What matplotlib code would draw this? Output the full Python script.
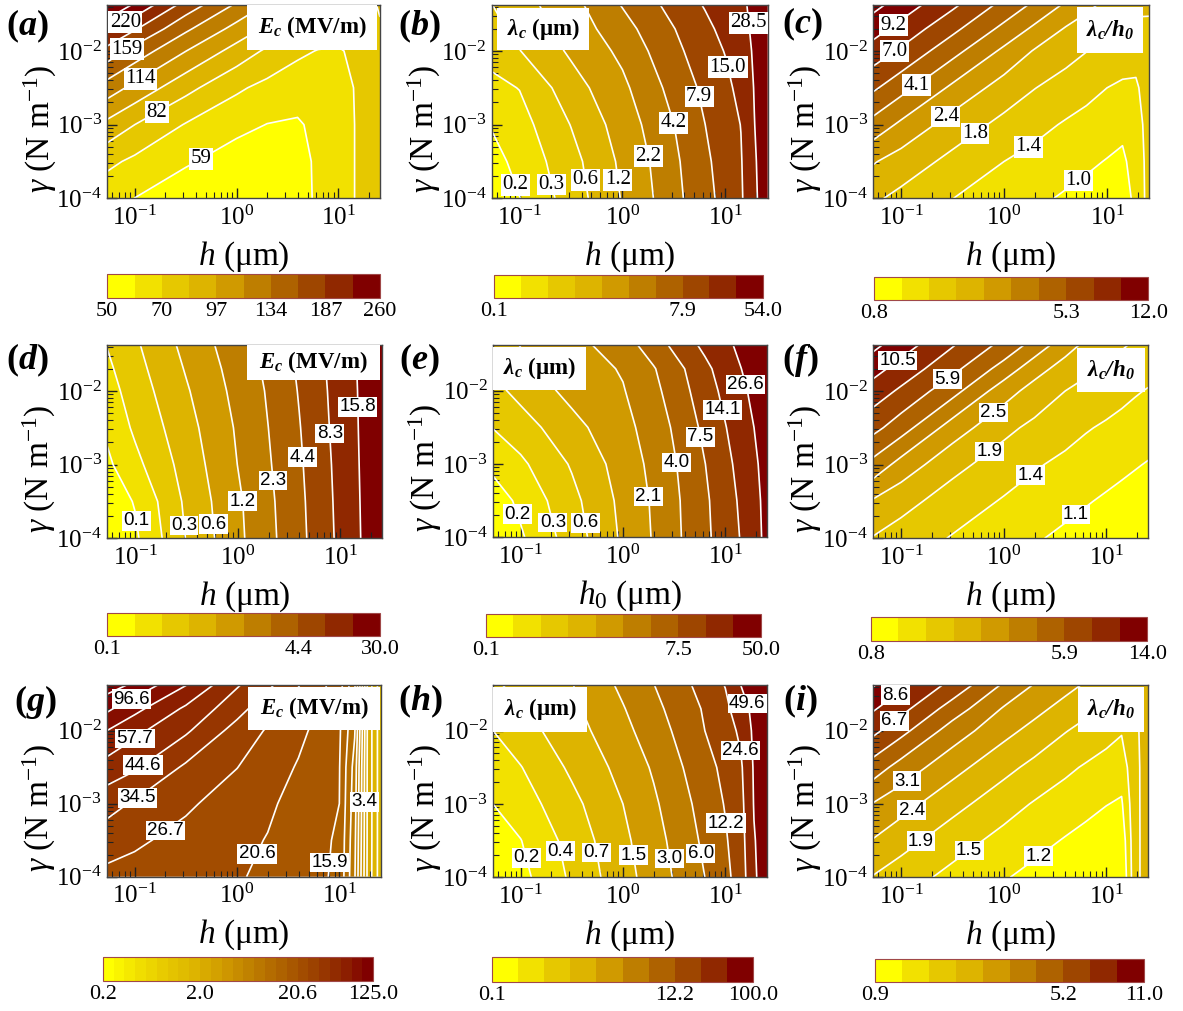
import numpy as np
import matplotlib
matplotlib.use('Agg')
import matplotlib.pyplot as plt
from matplotlib.colors import ListedColormap, BoundaryNorm, LinearSegmentedColormap
from matplotlib.patches import Rectangle
from matplotlib.cm import ScalarMappable
from matplotlib.ticker import LogLocator, NullFormatter, FixedLocator

plt.rcParams['font.family'] = ['Liberation Serif', 'DejaVu Serif']
plt.rcParams['mathtext.fontset'] = 'custom'
plt.rcParams['mathtext.rm'] = 'Liberation Serif'
plt.rcParams['mathtext.it'] = 'Liberation Serif:italic'
plt.rcParams['mathtext.bf'] = 'Liberation Serif:bold:italic'
plt.rcParams['contour.negative_linestyle'] = 'solid'

# ---------------- data ----------------
# grid nodes (log10 h in um, log10 gamma in N/m)
LOG_H_NODES = [-1.27, -1.0, -0.5, 0.0, 0.3, 0.6, 0.8, 1.0, 1.15, 1.28, 1.41]
LOG_G_NODES = [-4.0, -3.5, -3.0, -2.5, -2.0, -1.7, -1.376]

# field values at the nodes, expressed as position on each colour scale
# (0 = lowest colour-bar boundary, nb = highest), rows bottom -> top
K_A = [[1.34, 0.99, 0.33, 0.15, 0.19, 0.62, 1.15, 1.60, 1.97, 2.35, 2.70],
       [2.24, 1.79, 1.13, 0.52, 0.43, 0.67, 1.16, 1.60, 1.97, 2.35, 2.70],
       [3.74, 3.00, 1.94, 1.29, 0.98, 0.90, 1.22, 1.62, 1.97, 2.35, 2.70],
       [5.53, 4.72, 3.31, 2.16, 1.72, 1.41, 1.45, 1.69, 2.00, 2.36, 2.72],
       [7.63, 6.61, 5.02, 3.62, 2.83, 2.20, 1.96, 1.94, 2.10, 2.40, 2.75],
       [9.26, 8.10, 6.19, 4.66, 3.82, 2.99, 2.60, 2.27, 2.27, 2.47, 2.90],
       [11.0, 9.85, 7.61, 5.86, 4.92, 4.08, 3.54, 3.06, 2.78, 2.72, 3.10]]
K_B = [[0.19, 0.98, 2.46, 4.07, 5.00, 6.03, 6.67, 7.34, 7.87, 8.82, 9.60],
       [0.64, 1.30, 2.65, 4.21, 5.11, 6.14, 6.80, 7.44, 7.93, 8.89, 9.60],
       [1.07, 1.61, 3.03, 4.47, 5.33, 6.33, 6.99, 7.57, 8.02, 8.98, 9.60],
       [1.74, 2.03, 3.57, 4.78, 5.72, 6.65, 7.21, 7.74, 8.30, 9.04, 9.60],
       [2.33, 2.97, 4.16, 5.23, 6.16, 7.01, 7.52, 8.05, 8.61, 9.10, 9.65],
       [2.68, 3.30, 4.41, 5.60, 6.46, 7.23, 7.74, 8.30, 8.74, 9.15, 9.70],
       [2.98, 3.60, 4.64, 6.06, 6.83, 7.58, 8.07, 8.51, 8.84, 9.20, 9.75]]
K_C = [[3.16, 2.74, 2.01, 1.50, 1.19, 0.88, 0.67, 0.49, 0.52, 1.26, 2.40],
       [4.08, 3.56, 2.73, 2.00, 1.69, 1.38, 1.18, 0.95, 0.85, 1.35, 2.41],
       [5.65, 4.80, 3.56, 2.73, 2.29, 1.90, 1.69, 1.49, 1.20, 1.55, 2.43],
       [7.16, 6.35, 4.80, 3.56, 3.02, 2.58, 2.29, 2.00, 1.85, 1.86, 2.49],
       [8.58, 7.85, 6.34, 4.79, 3.91, 3.37, 3.02, 2.72, 2.50, 2.36, 2.63],
       [9.41, 8.67, 7.25, 5.73, 4.79, 3.91, 3.56, 3.19, 2.93, 2.75, 2.83],
       [10.3, 9.55, 8.19, 6.70, 5.79, 4.85, 4.23, 3.77, 3.49, 3.25, 3.15]]
K_D = [[0.10, 0.83, 3.04, 4.78, 5.73, 6.73, 7.46, 8.23, 8.81, 9.31, 9.81],
       [0.45, 1.06, 3.19, 4.84, 5.79, 6.78, 7.51, 8.27, 8.84, 9.33, 9.83],
       [0.81, 1.72, 3.41, 5.01, 5.90, 6.86, 7.57, 8.32, 8.87, 9.36, 9.86],
       [1.19, 2.17, 3.64, 5.12, 6.00, 6.95, 7.66, 8.38, 8.90, 9.40, 9.87],
       [1.57, 2.48, 3.90, 5.30, 6.10, 7.06, 7.74, 8.43, 8.93, 9.42, 9.88],
       [1.80, 2.66, 4.08, 5.42, 6.20, 7.14, 7.80, 8.47, 8.96, 9.43, 9.88],
       [2.04, 2.85, 4.28, 5.58, 6.33, 7.24, 7.88, 8.52, 8.99, 9.45, 9.89]]
K_E = [[0.05, 0.87, 2.48, 4.17, 5.08, 6.10, 6.78, 7.49, 8.04, 8.64, 9.27],
       [0.44, 1.23, 2.71, 4.27, 5.13, 6.14, 6.83, 7.57, 8.14, 8.71, 9.30],
       [1.27, 1.81, 3.10, 4.45, 5.26, 6.25, 6.98, 7.72, 8.31, 8.84, 9.35],
       [2.03, 2.54, 3.68, 4.70, 5.43, 6.47, 7.24, 7.96, 8.52, 9.00, 9.40],
       [2.69, 3.31, 4.30, 4.94, 5.73, 6.80, 7.53, 8.26, 8.80, 9.20, 9.50],
       [3.05, 3.73, 4.46, 5.09, 5.93, 6.99, 7.75, 8.47, 8.98, 9.35, 9.60],
       [3.50, 4.03, 4.63, 5.55, 6.49, 7.58, 8.23, 8.79, 9.20, 9.50, 9.75]]
K_F = [[2.94, 2.58, 1.93, 1.41, 1.10, 0.80, 0.61, 0.42, 0.27, 0.15, 0.05],
       [3.87, 3.33, 2.55, 1.91, 1.60, 1.28, 1.07, 0.87, 0.73, 0.60, 0.48],
       [5.68, 4.62, 3.29, 2.53, 2.10, 1.78, 1.57, 1.36, 1.20, 1.07, 0.94],
       [7.30, 6.46, 4.53, 3.25, 2.77, 2.36, 2.08, 1.87, 1.71, 1.57, 1.44],
       [8.55, 7.83, 6.37, 4.44, 3.61, 3.00, 2.73, 2.47, 2.27, 2.09, 1.94],
       [9.36, 8.61, 7.29, 5.60, 4.40, 3.58, 3.18, 2.86, 2.65, 2.48, 2.31],
       [10.25, 9.48, 8.08, 6.72, 5.63, 4.42, 3.80, 3.40, 3.10, 2.89, 2.72]]
K_G = [[18.75, 18.65, 18.40, 18.10, 17.78, 17.42, 17.17, 16.80, 14.10, 9.67, 7.30],
       [19.45, 19.16, 18.69, 18.24, 17.96, 17.57, 17.24, 16.85, 14.25, 9.70, 7.30],
       [20.39, 19.87, 19.16, 18.52, 18.15, 17.69, 17.34, 17.00, 14.43, 9.70, 7.30],
       [21.60, 21.14, 19.84, 19.02, 18.48, 17.92, 17.49, 17.05, 14.60, 9.70, 7.30],
       [23.00, 22.25, 21.16, 19.62, 18.90, 18.24, 17.74, 17.15, 15.10, 9.70, 7.30],
       [24.20, 23.29, 21.83, 20.38, 19.36, 18.52, 18.00, 17.25, 15.10, 9.70, 7.30],
       [25.50, 24.80, 23.03, 21.10, 20.23, 19.05, 18.34, 17.45, 15.13, 9.70, 7.30]]
K_H = [[0.05, 0.69, 2.17, 3.63, 4.45, 5.36, 6.00, 6.73, 7.46, 8.87, 9.50],
       [0.19, 0.97, 2.37, 3.78, 4.61, 5.54, 6.20, 6.89, 7.59, 8.94, 9.50],
       [1.00, 1.51, 2.72, 4.00, 4.84, 5.76, 6.40, 7.06, 7.70, 9.05, 9.50],
       [1.50, 1.96, 3.18, 4.32, 5.12, 6.04, 6.60, 7.29, 7.85, 9.10, 9.50],
       [2.00, 2.58, 3.58, 4.71, 5.52, 6.35, 7.00, 7.57, 8.18, 9.20, 9.60],
       [2.58, 2.94, 3.78, 4.94, 5.73, 6.54, 7.11, 7.76, 8.58, 9.25, 9.60],
       [2.90, 3.19, 3.96, 5.21, 5.98, 6.79, 7.39, 8.04, 9.00, 9.40, 9.70]]
K_I = [[2.94, 2.47, 1.71, 1.08, 0.71, 0.34, 0.09, 0.05, 0.05, 2.70, 3.50],
       [3.94, 3.38, 2.44, 1.69, 1.31, 0.93, 0.69, 0.44, 0.35, 2.70, 3.50],
       [4.94, 4.38, 3.34, 2.41, 1.92, 1.54, 1.29, 1.03, 0.88, 2.71, 3.50],
       [6.52, 5.60, 4.35, 3.30, 2.73, 2.20, 1.90, 1.64, 1.46, 2.72, 3.50],
       [8.26, 7.32, 5.54, 4.31, 3.69, 3.05, 2.70, 2.35, 2.08, 2.79, 3.50],
       [9.10, 8.33, 6.54, 4.91, 4.29, 3.66, 3.25, 2.85, 2.59, 2.90, 3.53],
       [10.07, 9.21, 7.71, 5.87, 4.94, 4.31, 3.90, 3.48, 3.17, 3.16, 3.59]]

# colour scales: (lowest boundary, highest boundary, number of bands)
SCALE_A = (50.0, 260.0, 10)
SCALE_B = (0.0906, 54.0, 10)
SCALE_C = (0.8, 12.0, 10)
SCALE_D = (0.0489, 30.0, 10)
SCALE_E = (0.0906, 50.0, 10)
SCALE_F = (0.8, 14.0, 10)
SCALE_G = (0.2, 125.0, 25)
SCALE_H = (0.0902, 100.0, 10)
SCALE_I = (0.9, 11.0, 10)

# contour labels: (boundary index, text)
CLAB_A = [(9, '220'), (7, '159'), (5, '114'), (3, '82'), (1, '59')]
CLAB_B = [(1, '0.2'), (2, '0.3'), (3, '0.6'), (4, '1.2'), (5, '2.2'), (6, '4.2'),
          (7, '7.9'), (8, '15.0'), (9, '28.5')]
CLAB_C = [(9, '9.2'), (8, '7.0'), (6, '4.1'), (4, '2.4'), (3, '1.8'), (2, '1.4'), (1, '1.0')]
CLAB_D = [(1, '0.1'), (3, '0.3'), (4, '0.6'), (5, '1.2'), (6, '2.3'), (7, '4.4'),
          (8, '8.3'), (9, '15.8')]
CLAB_E = [(1, '0.2'), (2, '0.3'), (3, '0.6'), (5, '2.1'), (6, '4.0'), (7, '7.5'),
          (8, '14.1'), (9, '26.6')]
CLAB_F = [(9, '10.5'), (7, '5.9'), (4, '2.5'), (3, '1.9'), (2, '1.4'), (1, '1.1')]
CLAB_G = [(24, '96.6'), (22, '57.7'), (21, '44.6'), (20, '34.5'), (19, '26.7'),
          (18, '20.6'), (17, '15.9'), (11, '3.4')]
CLAB_H = [(1, '0.2'), (2, '0.4'), (3, '0.7'), (4, '1.5'), (5, '3.0'), (6, '6.0'),
          (7, '12.2'), (8, '24.6'), (9, '49.6')]
CLAB_I = [(9, '8.6'), (8, '6.7'), (5, '3.1'), (4, '2.4'), (3, '1.9'), (2, '1.5'), (1, '1.2')]

# colour-bar tick labels: (boundary indices, texts)
CBT_A = ([0, 2, 4, 6, 8, 10], ['50', '70', '97', '134', '187', '260'])
CBT_B = ([0, 7, 10], ['0.1', '7.9', '54.0'])
CBT_C = ([0, 7, 10], ['0.8', '5.3', '12.0'])
CBT_D = ([0, 7, 10], ['0.1', '4.4', '30.0'])
CBT_E = ([0, 7, 10], ['0.1', '7.5', '50.0'])
CBT_F = ([0, 7, 10], ['0.8', '5.9', '14.0'])
CBT_G = ([0, 9, 18, 25], ['0.2', '2.0', '20.6', '125.0'])
CBT_H = ([0, 7, 10], ['0.1', '12.2', '100.0'])
CBT_I = ([0, 7, 10], ['0.9', '5.2', '11.0'])

TXT_EC = r'$\mathbf{E_c}$ (MV/m)'
TXT_LAM = r'$\mathbf{\lambda_c}$ (μm)'
TXT_RATIO = r'$\mathbf{\lambda_c/h_0}$'
XLAB_H = r'$h$ (μm)'
XLAB_H0 = r'$h_\mathrm{0}$ (μm)'
YLAB = r'$\gamma$ (N m$^{-1}$)'

BASE_COLORS = ['#FFFF00', '#F2E100', '#E6C800', '#DDB400', '#D09A00',
               '#BE7E00', '#AE6200', '#9E4600', '#902800', '#800000']

# ---------------- layout ----------------
W, H = 1183, 1011
fig = plt.figure(figsize=(W / 100, H / 100), dpi=100)


def px_rect(x0, y0, x1, y1):
    return [x0 / W, 1 - y1 / H, (x1 - x0) / W, (y1 - y0) / H]


SERIF = ['Liberation Serif', 'DejaVu Serif']
SANS = ['Liberation Sans', 'DejaVu Sans']

PANELS = [
    dict(letter='a', K=K_A, scale=SCALE_A, clab=CLAB_A, cbt=CBT_A, text=TXT_EC, xlab=XLAB_H,
         ax=(107.3, 5, 380, 198.3), cb=(107.3, 274, 380, 297.7), lp=(27, 26),
         box=(0.512, 0.767, 0.989, 1.0), lfam=SERIF,
         lpos=[(0.065, 0.914), (0.071, 0.776), (0.120, 0.621), (0.181, 0.448), (0.328, 0.241)]),
    dict(letter='b', K=K_B, scale=SCALE_B, clab=CLAB_B, cbt=CBT_B, text=TXT_LAM, xlab=XLAB_H,
         ax=(491.7, 5, 767.7, 198.3), cb=(494, 275, 763.3, 298.3), lp=(419, 26),
         box=(0.019, 0.767, 0.353, 0.984), lfam=SERIF,
         lpos=[(0.085, 0.069), (0.211, 0.069), (0.332, 0.095), (0.447, 0.095), (0.562, 0.216),
               (0.634, 0.379), (0.749, 0.526), (0.864, 0.681), (0.906, 0.905)]),
    dict(letter='c', K=K_C, scale=SCALE_C, clab=CLAB_C, cbt=CBT_C, text=TXT_RATIO, xlab=XLAB_H,
         ax=(873.3, 5, 1149.3, 198.3), cb=(874.3, 276.7, 1148.3, 300), lp=(802, 24),
         box=(0.738, 0.752, 0.977, 0.99), lfam=SERIF,
         lpos=[(0.072, 0.897), (0.079, 0.759), (0.157, 0.586), (0.254, 0.440), (0.368, 0.336),
               (0.562, 0.267), (0.737, 0.103)]),
    dict(letter='d', K=K_D, scale=SCALE_D, clab=CLAB_D, cbt=CBT_D, text=TXT_EC, xlab=XLAB_H,
         ax=(107.3, 345, 382.3, 538.3), cb=(107.3, 612.7, 380, 636), lp=(27, 360),
         box=(0.507, 0.819, 0.992, 1.0), lfam=SANS,
         lpos=[(0.076, 0.084), (0.282, 0.067), (0.416, 0.076), (0.519, 0.198), (0.628, 0.302),
               (0.731, 0.422), (0.810, 0.543), (0.919, 0.681)]),
    dict(letter='e', K=K_E, scale=SCALE_E, clab=CLAB_E, cbt=CBT_E, text=TXT_LAM, xlab=XLAB_H0,
         ax=(493, 345, 767.3, 537.3), cb=(485.7, 614, 760.7, 636.7), lp=(419, 360),
         box=(0.0, 0.766, 0.34, 0.99), lfam=SANS,
         lpos=[(0.061, 0.107), (0.231, 0.081), (0.358, 0.081), (0.565, 0.211), (0.656, 0.385),
               (0.759, 0.523), (0.832, 0.662), (0.917, 0.792)]),
    dict(letter='f', K=K_F, scale=SCALE_F, clab=CLAB_F, cbt=CBT_F, text=TXT_RATIO, xlab=XLAB_H,
         ax=(873.3, 345, 1148.3, 538.3), cb=(870.7, 616.7, 1147.3, 640.7), lp=(800, 360),
         box=(0.74, 0.758, 0.988, 0.983), lfam=SANS,
         lpos=[(0.091, 0.914), (0.279, 0.802), (0.424, 0.672), (0.418, 0.457), (0.570, 0.328),
               (0.733, 0.129)]),
    dict(letter='g', K=K_G, scale=SCALE_G, clab=CLAB_G, cbt=CBT_G, text=TXT_EC, xlab=XLAB_H,
         ax=(107, 685, 381.3, 876.7), cb=(102.7, 957.3, 373.3, 980.7), lp=(35, 702),
         box=(0.514, 0.765, 0.994, 0.99), lfam=SANS,
         lpos=[(0.089, 0.930), (0.101, 0.722), (0.137, 0.570), (0.107, 0.417), (0.216, 0.235),
               (0.532, 0.130), (0.775, 0.078), (0.927, 0.391)]),
    dict(letter='h', K=K_H, scale=SCALE_H, clab=CLAB_H, cbt=CBT_H, text=TXT_LAM, xlab=XLAB_H,
         ax=(493, 685, 767.3, 877.3), cb=(491.7, 956.7, 753.3, 981.7), lp=(420, 701),
         box=(0.0, 0.757, 0.344, 0.99), lfam=SANS,
         lpos=[(0.091, 0.090), (0.237, 0.133), (0.365, 0.125), (0.516, 0.116), (0.644, 0.099),
               (0.759, 0.125), (0.851, 0.281), (0.911, 0.662), (0.911, 0.896)]),
    dict(letter='i', K=K_I, scale=SCALE_I, clab=CLAB_I, cbt=CBT_I, text=TXT_RATIO, xlab=XLAB_H,
         ax=(873.3, 685, 1148.3, 877.3), cb=(875, 959.3, 1144, 981.7), lp=(800, 701),
         box=(0.743, 0.757, 0.985, 0.99), lfam=SANS,
         lpos=[(0.079, 0.948), (0.079, 0.809), (0.115, 0.515), (0.139, 0.350), (0.170, 0.194),
               (0.352, 0.133), (0.612, 0.090)]),
]


def palette(n):
    if n == len(BASE_COLORS):
        return list(BASE_COLORS)
    cm = LinearSegmentedColormap.from_list('p', BASE_COLORS)
    return [cm(t) for t in np.linspace(0, 1, n)]


LH = np.array(LOG_H_NODES)
LG = np.array(LOG_G_NODES)

for p in PANELS:
    lo, hi, nb = p['scale']
    levels = np.geomspace(lo, hi, nb + 1)
    Z = lo * (hi / lo) ** (np.array(p['K']) / nb)
    # contour in log10 of the quantity (geometric colour levels)
    LZ = np.log10(Z)
    llev = np.log10(levels)
    cols = palette(nb)
    cmap = ListedColormap(cols)
    cmap.set_under(cols[0])
    cmap.set_over(cols[-1])
    norm = BoundaryNorm(llev, nb)

    ax = fig.add_axes(px_rect(*p['ax']))
    ax.set_xscale('log')
    ax.set_yscale('log')
    ax.set_xlim(10 ** LH[0], 10 ** LH[-1])
    ax.set_ylim(10 ** LG[0], 10 ** LG[-1])
    trans = ax.transLimits + ax.transAxes  # grid given in log10 units
    ax.contourf(LH, LG, LZ, levels=llev, cmap=cmap, norm=norm, extend='both',
                transform=trans, antialiased=True)
    ax.contour(LH, LG, LZ, levels=llev, colors='white', linewidths=1.2,
               linestyles='solid', transform=trans)
    ax.set_xlim(10 ** LH[0], 10 ** LH[-1])
    ax.set_ylim(10 ** LG[0], 10 ** LG[-1])

    # ticks
    ax.xaxis.set_major_locator(FixedLocator([0.1, 1.0, 10.0]))
    ax.yaxis.set_major_locator(FixedLocator([1e-4, 1e-3, 1e-2]))
    ax.xaxis.set_minor_locator(LogLocator(base=10, subs=np.arange(2, 10), numticks=30))
    ax.yaxis.set_minor_locator(LogLocator(base=10, subs=np.arange(2, 10), numticks=30))
    ax.xaxis.set_minor_formatter(NullFormatter())
    ax.yaxis.set_minor_formatter(NullFormatter())
    ax.tick_params(which='both', direction='in', top=False, right=False,
                   labelsize=18, color='#222222')
    ax.tick_params(which='major', length=7, width=1.0)
    ax.tick_params(which='minor', length=4, width=0.8)
    ax.tick_params(axis='x', pad=5)
    ax.tick_params(axis='y', pad=4)
    for s in ax.spines.values():
        s.set_color('#444444')
        s.set_linewidth(1.0)

    # axis labels
    ax.set_xlabel(p['xlab'], fontsize=24)
    ax.xaxis.label.set_va('baseline')
    ax.xaxis.set_label_coords(0.5, -0.345)
    ax.set_ylabel(YLAB, fontsize=24)
    ax.yaxis.label.set_va('center')
    ax.yaxis.set_label_coords(-0.245, 0.36)

    # contour labels (one invisible single-level contour set per label)
    fs = 15 if p['lfam'] is SERIF else 13.5
    for (k, txt), (u, v) in zip(p['clab'], p['lpos']):
        cl = ax.contour(LH, LG, LZ, levels=[llev[k]], colors='none', linewidths=0,
                        linestyles='solid', transform=trans)
        x = 10 ** (LH[0] + u * (LH[-1] - LH[0]))
        y = 10 ** (LG[0] + v * (LG[-1] - LG[0]))
        texts = cl.clabel(manual=[(x, y)], inline=False, fmt={cl.levels[0]: txt},
                          fontsize=fs, colors='k')
        for t in texts:
            t.set_rotation(0)
            t.set_fontfamily(p['lfam'])
            t.set_bbox(dict(facecolor='white', edgecolor='none', pad=1.0))
            t.set_zorder(4)
    ax.set_xlim(10 ** LH[0], 10 ** LH[-1])
    ax.set_ylim(10 ** LG[0], 10 ** LG[-1])

    # quantity box
    u0, v0, u1, v1 = p['box']
    ax.add_patch(Rectangle((u0, v0), u1 - u0, v1 - v0, transform=ax.transAxes,
                           facecolor='white', edgecolor='none', zorder=5))
    ax.text((u0 + u1) / 2, (v0 + v1) / 2, p['text'], transform=ax.transAxes,
            ha='center', va='center', fontsize=16.5, fontweight='bold', zorder=6)

    # panel letter
    lx, ly = p['lp']
    fig.text(lx / W, 1 - ly / H, '(' + r'$\mathbf{' + p['letter'] + '}$' + ')',
             fontsize=26, fontweight='bold', ha='center', va='center')

    # colour bar
    cax = fig.add_axes(px_rect(*p['cb']))
    sm = ScalarMappable(norm=BoundaryNorm(levels, nb), cmap=ListedColormap(cols))
    idx, lab = p['cbt']
    cb = fig.colorbar(sm, cax=cax, orientation='horizontal', ticks=levels[idx])
    cb.set_ticklabels(lab)
    cb.minorticks_off()
    cb.ax.tick_params(length=0, labelsize=16, pad=3)
    cb.outline.set_edgecolor('#a04848')
    cb.outline.set_linewidth(0.8)

fig.savefig('out.png', dpi=100)
